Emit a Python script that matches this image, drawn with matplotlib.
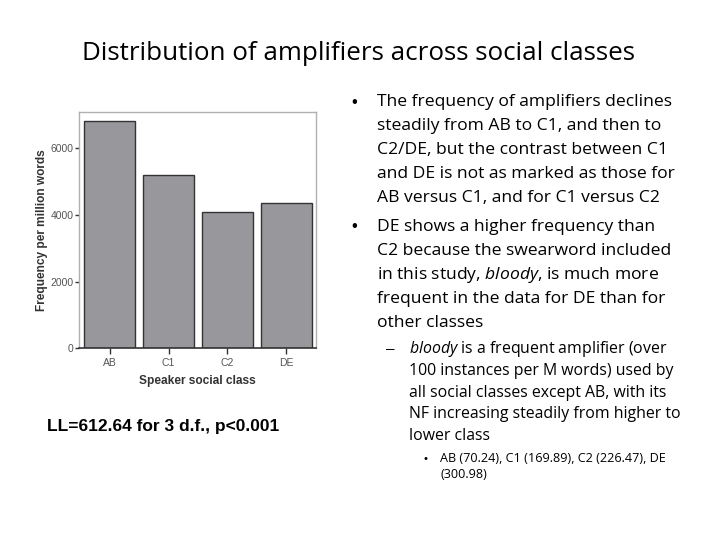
import matplotlib
matplotlib.use('Agg')
import matplotlib.pyplot as plt

# data
classes = ['AB', 'C1', 'C2', 'DE']
freq_pmw = [6820, 5200, 4100, 4370]
y_ticks = [0, 2000, 4000, 6000]

title = 'Distribution of amplifiers across social classes'
ll_note = 'LL=612.64 for 3 d.f., p<0.001'
bullet1 = ['The frequency of amplifiers declines',
           'steadily from AB to C1, and then to',
           'C2/DE, but the contrast between C1',
           'and DE is not as marked as those for',
           'AB versus C1, and for C1 versus C2']
bullet2 = ['DE shows a higher frequency than',
           'C2 because the swearword included',
           'in this study, $bloody$, is much more',
           'frequent in the data for DE than for',
           'other classes']
sub1 = ['$bloody$ is a frequent amplifier (over',
        '100 instances per M words) used by',
        'all social classes except AB, with its',
        'NF increasing steadily from higher to',
        'lower class']
subsub1 = ['AB (70.24), C1 (169.89), C2 (226.47), DE',
           '(300.98)']

FONT = 'Open Sans'
plt.rcParams['mathtext.fontset'] = 'custom'
plt.rcParams['mathtext.rm'] = FONT
plt.rcParams['mathtext.it'] = FONT + ':italic'

W, H = 720, 540
fig = plt.figure(figsize=(W / 100, H / 100), dpi=100)

def px(x, y):
    # pixel coords from top-left -> figure fraction
    return x / W, 1 - y / H

# bar chart
ax = fig.add_axes([79 / W, 1 - 348.3 / H, 236.5 / W, 236.6 / H])
ax.bar(range(len(classes)), freq_pmw, width=0.867, color='#98989c',
       edgecolor='#333333', linewidth=1.0, zorder=2)
ax.set_xlim(-0.522, 3.498)
ax.set_ylim(0, 7100)
ax.set_xticks(range(len(classes)))
ax.set_xticklabels(classes)
ax.set_yticks(y_ticks)
ax.set_yticklabels([str(v) for v in y_ticks])
for sp in ['top', 'right', 'left']:
    ax.spines[sp].set_color('#b0b0b0')
    ax.spines[sp].set_linewidth(1.0)
ax.spines['bottom'].set_color('#333333')
ax.spines['bottom'].set_linewidth(1.2)
ax.tick_params(axis='both', direction='out', colors='#333333', labelcolor='#555555',
               labelsize=7.5, width=1.0)
ax.tick_params(axis='y', length=3, pad=1)
ax.tick_params(axis='x', length=4, pad=3)
for lab in ax.get_xticklabels() + ax.get_yticklabels():
    lab.set_family('Liberation Sans')
ax.set_ylabel('Frequency per million words', family='Liberation Sans',
              fontsize=8.6, fontweight='bold', color='#333333', labelpad=1.5)
ax.set_xlabel('Speaker social class', family='Liberation Sans',
              fontsize=8.6, fontweight='bold', color='#333333', labelpad=5)

# slide texts
fig.text(*px(359, 59.5), title, family=FONT, fontsize=18.7, ha='center', va='baseline')
fig.text(*px(47, 431), ll_note, family='Liberation Sans', fontsize=12.5,
         fontweight='bold', va='baseline')

def block(lines, x_txt, y0, step, size, x_mark, marker='•', msize=None, my=0):
    for i, line in enumerate(lines):
        fig.text(*px(x_txt, y0 + i * step), line, family=FONT, fontsize=size,
                 va='baseline')
    fig.text(*px(x_mark, y0 + my), marker, family='Liberation Sans',
             fontsize=msize or size, va='baseline')

block(bullet1, 377, 106.5, 24, 12.6, 351, msize=12)
block(bullet2, 377, 230.7, 24, 12.6, 351, msize=12)
block(sub1, 409, 353.3, 21.7, 11.4, 386, marker='–', msize=11)
block(subsub1, 440, 462, 16, 9.1, 424, msize=8)

fig.savefig('out.png', dpi=100)
